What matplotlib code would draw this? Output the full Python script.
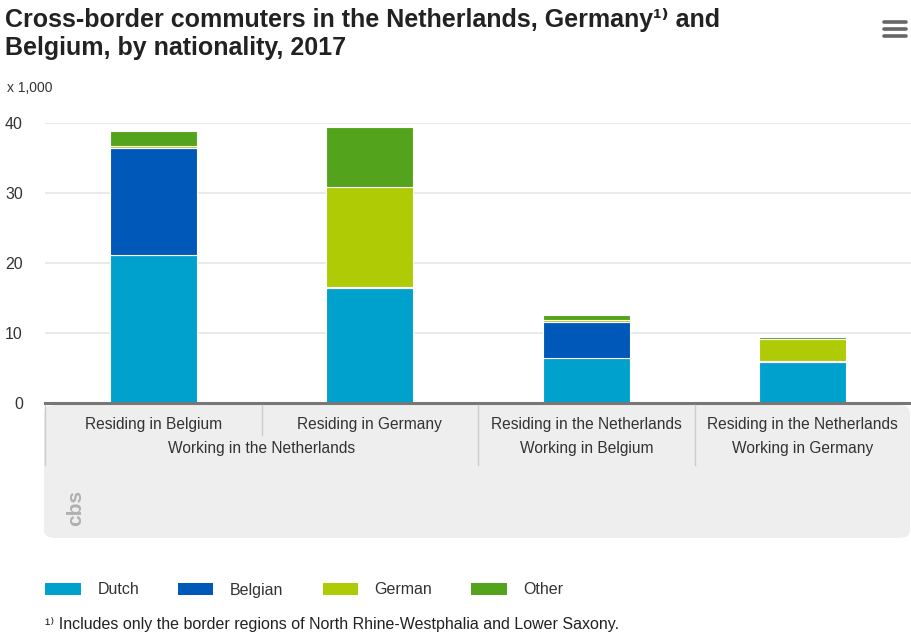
"""Cross-border commuters NL/DE/BE by nationality, 2017 - stacked bars."""

import matplotlib

matplotlib.use("Agg")
import matplotlib.pyplot as plt
from matplotlib.lines import Line2D
from matplotlib.patches import FancyBboxPatch, Patch
from matplotlib.transforms import blended_transform_factory

plt.rcParams["font.family"] = ["Liberation Sans", "DejaVu Sans"]

# data (x 1,000)
residence = [
    "Residing in Belgium",
    "Residing in Germany",
    "Residing in the Netherlands",
    "Residing in the Netherlands",
]
workplace = ["Working in the Netherlands", "Working in Belgium", "Working in Germany"]
workplace_span = [(0, 1), (2, 2), (3, 3)]

series = ["Dutch", "Belgian", "German", "Other"]
dutch = [21.2, 16.5, 6.4, 5.9]
belgian = [15.2, 0.1, 5.2, 0.1]
german = [0.3, 14.2, 0.2, 3.1]
other = [2.1, 8.7, 0.8, 0.3]
colors = ["#00a1cd", "#0058b8", "#afcb05", "#53a31d"]

yticks = [0, 10, 20, 30, 40]

W, H = 911, 636
fig = plt.figure(figsize=(W / 100, H / 100), dpi=100)


def fx(px):
    return px / W


def fy(py):
    return 1 - py / H


ax = fig.add_axes([fx(45), fy(403), fx(911) - fx(45), fy(123) - fy(403)])

x = list(range(len(residence)))
bottom = [0.0] * len(x)
for vals, col, name in zip([dutch, belgian, german, other], colors, series):
    ax.bar(x, vals, width=0.4, bottom=bottom, color=col, edgecolor="white",
           linewidth=0.8, label=name, zorder=3)
    bottom = [b + v for b, v in zip(bottom, vals)]

ax.set_xlim(-0.5, 3.5)
ax.set_ylim(0, 40)
ax.set_yticks(yticks)
ax.set_yticklabels([str(t) for t in yticks], fontsize=11.5, color="#333333")
ax.tick_params(axis="y", length=0, pad=16)
ax.tick_params(axis="x", length=0, labelbottom=False)
ax.grid(axis="y", color="#e6e6e6", linewidth=1.2, zorder=0)
for s in ["top", "right", "left"]:
    ax.spines[s].set_visible(False)
ax.spines["bottom"].set_color("#777777")
ax.spines["bottom"].set_linewidth(2.2)
ax.spines["bottom"].set_zorder(4)

# grey label band below the axis
band = FancyBboxPatch((fx(44), fy(538)), fx(910) - fx(44), fy(405) - fy(538),
                      boxstyle="round,pad=0,rounding_size=0.012",
                      transform=fig.transFigure, facecolor="#eeeeee",
                      edgecolor="none", zorder=0)
fig.add_artist(band)

tr = blended_transform_factory(ax.transData, fig.transFigure)
for xi, lab in zip(x, residence):
    fig.text(xi, fy(425), lab, transform=tr, ha="center", va="center",
             fontsize=11.2, color="#333333")
for lab, (a, b) in zip(workplace, workplace_span):
    fig.text((a + b) / 2, fy(448), lab, transform=tr, ha="center", va="center",
             fontsize=11.2, color="#333333")

for xs, y_end in [(-0.5, 465), (0.5, 435), (1.5, 465), (2.5, 465)]:
    fig.add_artist(Line2D([xs, xs], [fy(405), fy(y_end)], transform=tr,
                          color="#cccccc", linewidth=1))

# cbs logo placeholder
fig.text(fx(76), fy(508), "cbs", rotation=90, ha="center", va="center",
         fontsize=15, color="#b0b0b0", fontweight="bold")

# title and unit
fig.text(fx(5), fy(20), "Cross-border commuters in the Netherlands, Germany\u00b9\u207e and",
         fontsize=18, fontweight="bold", color="#222222", va="center")
fig.text(fx(5), fy(48), "Belgium, by nationality, 2017",
         fontsize=18, fontweight="bold", color="#222222", va="center")
fig.text(fx(7), fy(88), "x 1,000", fontsize=10, color="#333333", va="center")

# menu icon
for py in [22, 29, 36]:
    fig.add_artist(Line2D([fx(884), fx(906)], [fy(py), fy(py)],
                          color="#666666", linewidth=2.6, solid_capstyle="round"))

handles = [Patch(facecolor=c, edgecolor="none", label=n) for c, n in zip(colors, series)]
fig.legend(handles=handles, loc="center left", bbox_to_anchor=(fx(31), fy(590)),
           ncol=4, frameon=False, fontsize=11.5, handlelength=2.2,
           handleheight=0.8, handletextpad=1.05, columnspacing=2.45,
           labelcolor="#333333")

fig.text(fx(45), fy(625), "\u00b9\u207e Includes only the border regions of North Rhine-Westphalia and Lower Saxony.",
         fontsize=11.5, color="#222222", va="center")

fig.savefig("out.png", dpi=100)
